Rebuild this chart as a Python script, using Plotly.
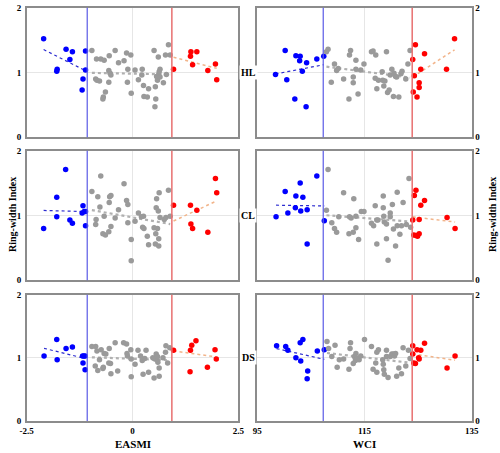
import numpy as np
import plotly.graph_objects as go

# ---------------- data ----------------
# Panel HL vs EASMI
hl_e_blue_x = [-2.10, -1.57, -1.42, -1.48, -1.78, -1.79, -1.11, -1.11, -1.17, -1.19]
hl_e_blue_y = [1.52, 1.36, 1.32, 1.20, 1.05, 1.02, 1.33, 1.04, 0.90, 0.73]
hl_e_grey_x = [-0.96, -0.85, -0.75, -0.67, -0.55, -0.41, -0.33, -0.20, -0.14, -0.04, -0.56, -0.53, -0.51,
               -0.87, -0.84, -0.78, -0.56, -0.64, -0.69, -0.70, -0.11, -0.12, -0.03, 0.06, 0.14, 0.23, 0.22,
               0.26, 0.27, 0.35, 0.38, 0.51, 0.61, 0.54, 0.55, 0.53, 0.57, 0.59, 0.62, 0.65, 0.65, 0.73,
               0.78, 0.80, 0.85, 0.89, 0.63]
hl_e_grey_y = [1.34, 1.21, 1.21, 1.19, 1.26, 1.34, 1.15, 1.18, 1.30, 1.27, 1.03, 0.99, 0.96,
               0.90, 0.88, 0.87, 0.85, 0.70, 0.62, 0.59, 1.05, 0.85, 0.68, 1.04, 0.89, 1.05, 0.96,
               0.80, 0.63, 0.62, 0.75, 1.34, 1.24, 0.78, 0.59, 0.47, 0.94, 0.88, 0.97, 1.05, 0.93, 0.84,
               1.27, 0.97, 1.43, 1.27, 1.01]
hl_e_red_x = [0.97, 1.38, 1.52, 1.37, 1.42, 1.96, 1.78, 1.99]
hl_e_red_y = [1.05, 1.32, 1.32, 1.25, 1.12, 1.13, 1.03, 0.89]

# Panel HL vs WCI
hl_w_blue_x = [98.4, 100.2, 100.5, 102.2, 103.0, 102.9, 103.4, 104.2, 102.0, 104.1, 106.1, 107.4]
hl_w_blue_y = [0.97, 1.34, 0.89, 1.26, 1.25, 1.18, 1.02, 1.15, 0.59, 0.47, 1.21, 1.25]
hl_w_grey_x = [107.9, 108.2, 108.8, 109.4, 109.8, 110.1, 111.1, 112.1, 112.2, 112.4, 112.9, 112.9, 113.4,
               113.4, 113.8, 114.3, 114.9, 116.3, 116.6, 117.1, 117.0, 117.6, 117.3, 118.3, 118.4, 118.6,
               118.8, 119.1, 119.3, 119.6, 119.8, 120.1, 120.4, 120.5, 120.8, 121.0, 121.4, 121.8, 122.0,
               122.7, 123.1, 123.5]
hl_w_grey_y = [1.32, 1.36, 0.85, 1.13, 1.03, 1.06, 0.90, 0.59, 1.27, 1.34, 0.93, 0.84, 1.05,
               1.19, 0.67, 1.04, 1.13, 1.32, 1.33, 1.27, 0.91, 0.88, 0.75, 1.01, 0.88, 0.79,
               0.87, 1.32, 0.69, 0.73, 0.96, 1.05, 0.63, 0.99, 0.94, 0.93, 0.62, 0.98, 1.02,
               0.90, 1.13, 1.34]
hl_w_red_x = [124.5, 124.0, 124.3, 126.2, 125.5, 125.2, 125.2, 124.1, 124.8, 130.3, 131.8]
hl_w_red_y = [1.43, 1.20, 0.95, 1.29, 1.05, 0.84, 0.77, 0.70, 0.62, 1.05, 1.52]

# Panel CL vs EASMI
cl_e_blue_x = [-2.10, -1.79, -1.79, -1.58, -1.48, -1.42, -1.17, -1.19, -1.14, -1.11, -1.11]
cl_e_blue_y = [0.80, 1.28, 0.98, 1.71, 0.93, 0.88, 1.15, 1.04, 1.06, 1.06, 0.84]
cl_e_grey_x = [-0.96, -0.75, -0.82, -0.77, -0.86, -0.87, -0.67, -0.70, -0.64, -0.56, -0.51, -0.55, -0.54,
               -0.51, -0.41, -0.33, -0.20, -0.14, -0.11, -0.11, -0.03, -0.03, 0.06, 0.14, 0.21, 0.26,
               0.24, 0.27, 0.35, 0.38, 0.51, 0.55, 0.57, 0.59, 0.56, 0.61, 0.63, 0.54, 0.62, 0.62,
               0.65, 0.75, 0.79, 0.85, 0.89]
cl_e_grey_y = [1.37, 1.61, 1.29, 1.13, 0.94, 0.86, 0.99, 0.72, 0.70, 0.75, 0.83, 1.20, 1.29,
               1.31, 0.96, 1.09, 1.49, 1.23, 1.17, 0.89, 0.63, 0.30, 0.91, 1.04, 0.98, 0.99,
               0.82, 0.80, 0.68, 0.55, 0.81, 0.72, 1.26, 0.80, 1.12, 1.07, 1.35, 0.56, 0.64, 0.53,
               0.97, 0.94, 0.97, 1.39, 0.99]
cl_e_red_x = [0.97, 1.37, 1.52, 1.38, 1.42, 1.78, 1.96, 1.99]
cl_e_red_y = [1.16, 1.16, 1.08, 0.87, 0.80, 0.74, 1.57, 1.35]

# Panel CL vs WCI
cl_w_blue_x = [98.5, 100.2, 100.7, 102.2, 102.1, 103.0, 103.1, 103.5, 104.3, 104.3, 106.1, 107.5]
cl_w_blue_y = [0.98, 1.37, 1.04, 1.30, 1.12, 1.50, 1.07, 1.28, 1.09, 0.56, 1.61, 0.92]
cl_w_grey_x = [108.2, 107.9, 108.9, 109.4, 109.8, 110.2, 111.1, 112.1, 112.2, 112.5, 112.9, 113.0, 113.4,
               113.4, 113.9, 114.4, 114.9, 116.3, 116.7, 117.0, 117.3, 117.3, 117.5, 118.5, 118.5, 118.6,
               118.7, 119.1, 119.1, 119.4, 119.8, 119.8, 120.2, 120.4, 120.8, 121.1, 121.1, 121.6, 121.9,
               122.2, 122.8, 123.3, 123.6]
cl_w_grey_y = [1.71, 1.08, 0.89, 0.80, 0.74, 0.98, 1.35, 0.72, 0.98, 0.96, 0.74, 1.26, 0.81,
               0.99, 0.63, 1.06, 1.06, 0.88, 0.84, 1.15, 0.93, 0.56, 0.93, 1.30, 1.12, 0.99,
               0.90, 0.87, 0.64, 0.31, 1.04, 0.98, 1.17, 0.79, 0.53, 1.36, 0.84, 0.71, 0.84,
               1.20, 0.86, 1.57, 0.82]
cl_w_red_x = [124.0, 124.3, 124.6, 125.2, 126.2, 125.5, 124.2, 124.6, 124.9, 125.2, 130.4, 131.9]
cl_w_red_y = [0.93, 1.31, 1.39, 0.94, 1.23, 1.16, 0.70, 0.69, 0.68, 0.72, 0.97, 0.80]

# Panel DS vs EASMI
ds_e_blue_x = [-2.09, -1.79, -1.78, -1.57, -1.42, -1.18, -1.15, -1.12, -1.17, -1.12]
ds_e_blue_y = [1.03, 1.29, 0.97, 1.15, 1.17, 1.03, 1.03, 1.03, 0.92, 0.81]
ds_e_grey_x = [-0.96, -0.87, -0.84, -0.78, -0.74, -0.67, -0.63, -0.55, -0.52, -0.51, -0.41, -0.35, -0.88,
               -0.82, -0.70, -0.69, -0.56, -0.21, -0.14, -0.13, -0.12, -0.04, -0.03, -0.03, 0.06, 0.13,
               0.19, 0.23, 0.25, 0.29, 0.32, 0.38, 0.48, 0.51, 0.53, 0.56, 0.58, 0.59, 0.60, 0.63,
               0.63, 0.72, 0.78, 0.79, 0.83, 0.88]
ds_e_grey_y = [1.18, 1.18, 1.11, 0.97, 1.13, 1.07, 1.06, 1.15, 0.91, 0.75, 1.24, 0.79, 0.87,
               0.80, 0.83, 0.85, 0.92, 1.24, 1.22, 1.07, 1.03, 1.13, 0.98, 0.70, 0.90, 1.12,
               1.03, 0.96, 0.74, 0.99, 1.12, 0.77, 1.00, 0.68, 0.98, 1.06, 0.97, 1.02, 0.93, 0.71,
               0.84, 1.00, 1.09, 1.19, 0.92, 1.16]
ds_e_red_x = [0.97, 1.37, 1.40, 1.50, 1.36, 1.77, 1.95, 1.98]
ds_e_red_y = [1.12, 1.12, 1.20, 1.27, 0.78, 0.85, 1.13, 0.98]

# Panel DS vs WCI
ds_w_blue_x = [98.6, 100.3, 100.7, 102.2, 103.0, 103.5, 103.1, 104.4, 104.3, 106.2, 107.5]
ds_w_blue_y = [1.19, 1.18, 1.12, 1.00, 1.24, 1.29, 0.95, 0.79, 0.67, 1.11, 1.13]
ds_w_grey_x = [108.0, 108.3, 108.9, 109.5, 109.9, 110.3, 111.1, 112.1, 112.3, 112.4, 112.9, 113.1, 113.3,
               113.4, 113.7, 114.0, 114.3, 115.0, 116.3, 116.6, 117.1, 117.3, 117.3, 117.6, 118.4, 118.5,
               118.6, 118.7, 119.1, 119.1, 119.4, 119.8, 120.1, 120.4, 120.6, 120.8, 121.0, 121.4, 121.9,
               122.2, 122.7, 123.2, 123.5]
ds_w_grey_y = [1.26, 1.15, 1.02, 1.20, 0.85, 0.97, 0.98, 0.82, 1.15, 1.24, 0.91, 1.02, 0.96,
               1.07, 0.99, 0.97, 1.03, 1.29, 1.18, 0.82, 0.92, 0.77, 1.09, 1.13, 0.97, 0.90,
               0.81, 0.74, 1.12, 1.02, 0.69, 1.02, 1.06, 1.06, 1.03, 1.07, 0.71, 0.84, 0.75,
               1.16, 0.87, 1.12, 0.99]
ds_w_red_x = [124.0, 124.0, 124.2, 124.5, 124.8, 125.1, 125.2, 125.5, 126.2, 130.4, 131.9]
ds_w_red_y = [1.19, 1.06, 0.92, 0.91, 1.13, 1.00, 0.98, 1.12, 1.23, 0.84, 1.03]

row_labels = ["HL", "CL", "DS"]
x_titles = ["EASMI", "WCI"]
easmi_ticks = [-2.5, 0, 2.5]
easmi_ticktext = ["-2.5", "0", "2.5"]
wci_ticks = [95, 115, 135]
wci_ticktext = ["95", "115", "135"]
rwi_ticks = [0, 1, 2]
easmi_thresholds = [-1.07, 0.93]
wci_thresholds = [107.3, 123.9]

panels = [
    (0, 0, hl_e_blue_x, hl_e_blue_y, hl_e_grey_x, hl_e_grey_y, hl_e_red_x, hl_e_red_y),
    (0, 1, hl_w_blue_x, hl_w_blue_y, hl_w_grey_x, hl_w_grey_y, hl_w_red_x, hl_w_red_y),
    (1, 0, cl_e_blue_x, cl_e_blue_y, cl_e_grey_x, cl_e_grey_y, cl_e_red_x, cl_e_red_y),
    (1, 1, cl_w_blue_x, cl_w_blue_y, cl_w_grey_x, cl_w_grey_y, cl_w_red_x, cl_w_red_y),
    (2, 0, ds_e_blue_x, ds_e_blue_y, ds_e_grey_x, ds_e_grey_y, ds_e_red_x, ds_e_red_y),
    (2, 1, ds_w_blue_x, ds_w_blue_y, ds_w_grey_x, ds_w_grey_y, ds_w_red_x, ds_w_red_y),
]

# ---------------- layout geometry ----------------
W, H = 500, 453
col_px = [(26.7, 238.3), (257.3, 471.7)]
row_px = [(7.7, 137.3), (150.7, 280.3), (294.7, 421.0)]


def px(X):
    return X / W


def py(Y):
    return 1 - Y / H


FONT = "Liberation Serif"
fig = go.Figure()
layout = dict(width=W, height=H, margin=dict(l=0, r=0, t=0, b=0, autoexpand=False),
              paper_bgcolor="white", plot_bgcolor="white", showlegend=False)
shapes = []
annotations = []

BLUE = "#0000ff"
GREY = "#9a9a9a"
RED = "#ff0000"
MARK = 5.5


def trend(xs, ys):
    xs = np.asarray(xs, float)
    ys = np.asarray(ys, float)
    k, b = np.polyfit(xs, ys, 1)
    xx = np.array([xs.min(), xs.max()])
    return xx, k * xx + b


for i, (r, c, bx, by, gx, gy, rx, ry) in enumerate(panels):
    n = i + 1
    xa = "x" if n == 1 else f"x{n}"
    ya = "y" if n == 1 else f"y{n}"
    xkey = "xaxis" if n == 1 else f"xaxis{n}"
    ykey = "yaxis" if n == 1 else f"yaxis{n}"
    x0, x1 = col_px[c]
    y0, y1 = row_px[r]
    if c == 0:
        rng, ticks, tt, thr = [-2.5, 2.5], easmi_ticks, easmi_ticktext, easmi_thresholds
    else:
        rng, ticks, tt, thr = [95, 135], wci_ticks, wci_ticktext, wci_thresholds
    layout[xkey] = dict(domain=[px(x0), px(x1)], range=rng, anchor=ya, automargin=False,
                        tickvals=ticks, ticktext=tt, showgrid=True, gridcolor="#e6e6e6", gridwidth=1,
                        zeroline=False, showline=True, mirror=True, linecolor="#8c8c8c", linewidth=1.5,
                        ticks="", showticklabels=(r == 2), ticklabelstandoff=0,
                        tickfont=dict(family=FONT, size=9, color="black", weight="bold"))
    layout[ykey] = dict(domain=[py(y1), py(y0)], range=[0, 2], anchor=xa, automargin=False,
                        side="left" if c == 0 else "right",
                        tickvals=rwi_ticks, showgrid=True, gridcolor="#e6e6e6", gridwidth=1,
                        zeroline=False, showline=True, mirror=True, linecolor="#8c8c8c", linewidth=1.5,
                        ticks="", ticklabelstandoff=2 if c == 0 else 0,
                        tickfont=dict(family=FONT, size=9, color="black", weight="bold"))

    shapes.append(dict(type="line", xref=xa, yref=f"{ya} domain", x0=thr[0], x1=thr[0], y0=0, y1=1,
                       line=dict(color="#5a5ae6", width=1.2)))
    shapes.append(dict(type="line", xref=xa, yref=f"{ya} domain", x0=thr[1], x1=thr[1], y0=0, y1=1,
                       line=dict(color="#e87070", width=1.5)))

    for (xs, ys, col, wd) in [(bx, by, "#2b2bd0", 1.2), (gx, gy, "#b0b0b0", 2.2), (rx, ry, "#f2b48a", 1.5)]:
        tx, ty = trend(xs, ys)
        fig.add_trace(go.Scatter(x=tx, y=ty, mode="lines", xaxis=xa, yaxis=ya,
                                 line=dict(color=col, width=wd, dash="dot"), hoverinfo="skip"))
    for (xs, ys, col) in [(bx, by, BLUE), (gx, gy, GREY), (rx, ry, RED)]:
        fig.add_trace(go.Scatter(x=xs, y=ys, mode="markers", xaxis=xa, yaxis=ya,
                                 marker=dict(color=col, size=MARK, line=dict(width=0))))

    if c == 0:
        annotations.append(dict(text=row_labels[r], xref="paper", yref=ya, x=px(248), y=1,
                                xanchor="center", yanchor="middle", showarrow=False,
                                bgcolor="white", borderpad=1,
                                font=dict(family=FONT, size=10, color="black", weight="bold")))
    if r == 2:
        annotations.append(dict(text=x_titles[c], xref="paper", yref="paper", x=px((x0 + x1) / 2),
                                y=py(444), xanchor="center", yanchor="middle", showarrow=False,
                                font=dict(family=FONT, size=11, color="black", weight="bold")))

for xp in (12, 492):
    annotations.append(dict(text="Ring-width Index", xref="paper", yref="paper", x=px(xp), y=py(215),
                            textangle=-90, showarrow=False, xanchor="center", yanchor="middle",
                            font=dict(family=FONT, size=10, color="black", weight="bold")))

layout["shapes"] = shapes
layout["annotations"] = annotations
fig.update_layout(**layout)
fig.write_html("out.html", config={"displayModeBar": False},
               post_script="document.body.style.margin='0px';")
